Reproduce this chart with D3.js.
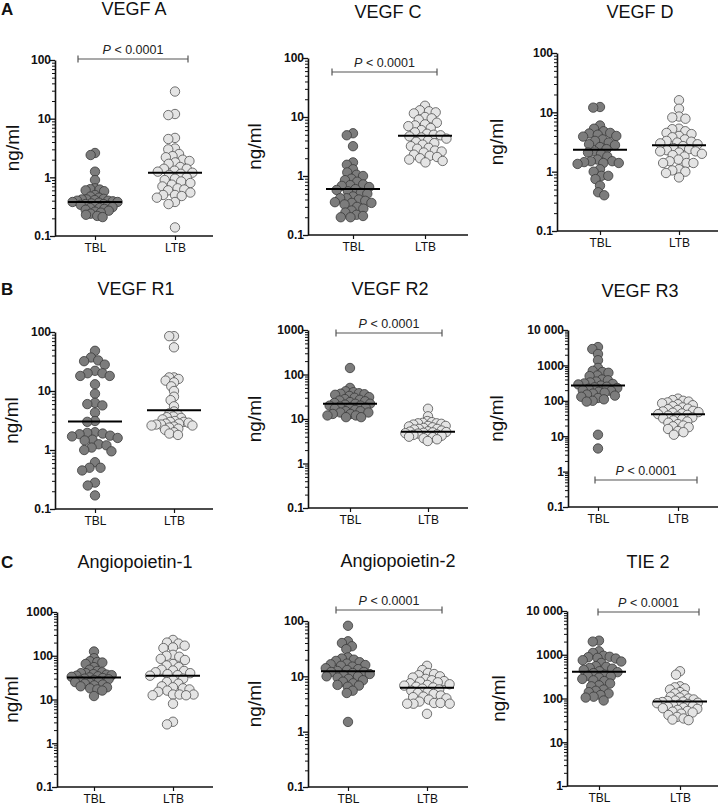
<!DOCTYPE html>
<html><head><meta charset="utf-8">
<script src="https://cdn.jsdelivr.net/npm/d3@7"></script>
<style>
body{margin:0;background:#fff}
svg{display:block}
text{font-family:"Liberation Sans",Arial,Helvetica,sans-serif}
</style>
</head><body>
<svg id="chart" width="721" height="807"></svg>
<script>
// ---------------- DATA ----------------
const groups = ["TBL", "LTB"];
const panelTitles = ["VEGF A", "VEGF C", "VEGF D", "VEGF R1", "VEGF R2", "VEGF R3", "Angiopoietin-1", "Angiopoietin-2", "TIE 2"];
const rowLetters = ["A", "B", "C"];
const unitLabel = "ng/ml";
const pText = "< 0.0001";

const vegfA_TBL = [2.6, 2.4, 1.25, 0.9, 0.65, 0.63, 0.62, 0.6, 0.58, 0.5, 0.47, 0.45, 0.43, 0.42, 0.42, 0.41, 0.4, 0.4, 0.39, 0.38, 0.38, 0.37, 0.36, 0.35, 0.35, 0.34, 0.33, 0.32, 0.31, 0.3, 0.3, 0.29, 0.28, 0.27, 0.26, 0.25, 0.24, 0.23, 0.22, 0.21];
const vegfA_LTB = [29, 12, 11.5, 4.7, 4.5, 3.1, 3.0, 2.5, 2.3, 2.2, 2.0, 1.9, 1.8, 1.7, 1.5, 1.4, 1.4, 1.3, 1.25, 1.2, 1.15, 1.1, 1.0, 0.95, 0.9, 0.85, 0.8, 0.75, 0.7, 0.65, 0.62, 0.6, 0.55, 0.5, 0.5, 0.48, 0.45, 0.38, 0.35, 0.14];
const vegfC_TBL = [5.3, 4.9, 3.2, 1.7, 1.55, 1.3, 1.15, 1.05, 1.0, 0.9, 0.85, 0.8, 0.72, 0.7, 0.68, 0.65, 0.6, 0.58, 0.55, 0.52, 0.5, 0.45, 0.42, 0.42, 0.4, 0.38, 0.36, 0.35, 0.35, 0.33, 0.3, 0.28, 0.26, 0.24, 0.22, 0.21, 0.2, 0.2];
const vegfC_LTB = [15.5, 13, 12.5, 12, 11.5, 10, 9.5, 9, 8, 7.5, 7.2, 7, 6.5, 6, 5.5, 5.2, 5, 4.9, 4.7, 4.5, 4.3, 4, 3.8, 3.6, 3.4, 3.2, 3, 2.9, 2.7, 2.6, 2.5, 2.3, 2.2, 2.1, 2.0, 1.9, 1.8, 1.7];
const vegfD_TBL = [12, 12.3, 6, 5.3, 4.8, 4.5, 4.4, 4.2, 4.0, 3.9, 3.5, 3.3, 3.1, 2.9, 2.8, 2.6, 2.4, 2.2, 2.1, 2.0, 1.8, 1.6, 1.5, 1.5, 1.45, 1.4, 1.4, 1.35, 1.1, 1.0, 0.85, 0.85, 0.75, 0.58, 0.45, 0.4];
const vegfD_LTB = [16, 11.5, 8.5, 8.2, 7.8, 5.3, 5.2, 4.8, 4.5, 4.3, 4.0, 3.8, 3.5, 3.3, 3.2, 3.1, 3.0, 2.9, 2.7, 2.5, 2.4, 2.3, 2.2, 2.2, 2.1, 2.0, 1.9, 1.8, 1.6, 1.5, 1.4, 1.4, 1.4, 1.1, 1.05, 1.0, 0.95, 0.8];
const vegfR1_TBL = [48, 37, 33, 32, 28, 22, 20, 20, 18, 18, 13, 9, 6.3, 6, 5.7, 4.3, 3.1, 3.0, 2.0, 1.95, 1.9, 1.85, 1.75, 1.7, 1.6, 1.5, 1.45, 1.25, 1.2, 1.1, 1.0, 0.95, 0.62, 0.5, 0.5, 0.45, 0.28, 0.25, 0.17];
const vegfR1_LTB = [85, 85, 55, 17, 17, 16, 15, 14, 12, 10, 8, 7, 5.5, 4.5, 4.2, 4.0, 3.7, 3.6, 3.5, 3.3, 3.1, 3.0, 3.0, 2.9, 2.8, 2.8, 2.7, 2.7, 2.6, 2.6, 2.5, 2.4, 2.3, 2.2, 2.0, 1.9, 1.8];
const vegfR2_TBL = [140, 50, 42, 40, 38, 37, 36, 35, 33, 31, 30, 28, 27, 26, 25, 24, 23, 22, 22, 21, 20, 20, 19, 18, 18, 17, 16, 15, 15, 14, 14, 13, 13, 12, 12, 11, 11];
const vegfR2_LTB = [17, 11.5, 9, 8.5, 8.2, 8, 8, 7.8, 7.5, 7, 7, 6.8, 6.5, 6.3, 6, 6, 5.8, 5.5, 5.3, 5.2, 5.1, 5, 4.9, 4.8, 4.7, 4.5, 4.4, 4.2, 4.1, 4, 3.9, 3.7, 3.5, 3.2];
const vegfR3_TBL = [3300, 2900, 2100, 1400, 850, 700, 650, 620, 520, 500, 400, 380, 350, 330, 310, 300, 290, 270, 250, 240, 230, 220, 200, 190, 180, 170, 160, 150, 140, 130, 120, 110, 100, 95, 11, 4.5];
const vegfR3_LTB = [115, 105, 100, 95, 90, 85, 80, 75, 70, 65, 60, 58, 55, 52, 50, 48, 46, 44, 42, 40, 38, 36, 34, 32, 30, 28, 26, 24, 22, 20, 19, 18, 16, 14, 13, 11];
const ang1_TBL = [125, 88, 75, 72, 70, 65, 55, 48, 45, 42, 40, 40, 38, 37, 36, 35, 34, 33, 32, 31, 30, 29, 28, 27, 26, 25, 24, 23, 22, 21, 20, 19, 18, 17, 16, 12];
const ang1_LTB = [230, 200, 190, 170, 155, 150, 105, 100, 95, 85, 80, 65, 60, 55, 48, 46, 45, 42, 40, 38, 36, 35, 30, 28, 25, 23, 20, 19, 18, 17, 16, 15, 13, 13, 13, 12.5, 12.5, 8, 3.1, 2.7];
const ang2_TBL = [82, 43, 40, 35, 31, 22, 21, 20, 19, 18, 17, 16.5, 16, 15.5, 15, 14, 13.5, 13, 12.5, 12, 12, 11.5, 11, 10.5, 10, 10, 9.5, 9, 8.5, 8, 7.5, 7, 6.8, 6.5, 5.5, 5, 1.5];
const ang2_LTB = [15.5, 13, 11.5, 11, 10.5, 10, 9.5, 9, 8.5, 8.2, 8, 7.8, 7.5, 7.2, 7, 6.8, 6.5, 6.3, 6, 5.8, 5.5, 5.2, 5, 4.8, 4.5, 4.3, 4.2, 4, 3.8, 3.5, 3.3, 3.3, 3.2, 3.2, 3.2, 2.1];
const tie2_TBL = [2100, 2000, 1200, 1100, 950, 900, 880, 850, 820, 750, 700, 650, 550, 530, 500, 480, 450, 420, 400, 380, 350, 330, 320, 300, 280, 260, 250, 220, 200, 190, 160, 150, 140, 130, 120, 110, 105, 90];
const tie2_LTB = [420, 350, 190, 180, 170, 160, 140, 130, 120, 110, 105, 100, 95, 90, 88, 85, 83, 80, 78, 75, 72, 70, 68, 65, 62, 60, 58, 55, 52, 50, 48, 45, 42, 38, 35, 33, 32];

const medianTBL = [0.38, 0.6, 2.35, 3.05, 22, 270, 32, 12.3, 410];
const medianLTB = [1.2, 4.8, 2.8, 4.7, 5.2, 42, 35, 6.2, 85];

const tickLabels = [
  ["0.1", "1", "10", "100"],
  ["0.1", "1", "10", "100"],
  ["0.1", "1", "10", "100"],
  ["0.1", "1", "10", "100"],
  ["0.1", "1", "10", "100", "1000"],
  ["0.1", "1", "10", "100", "1000", "10 000"],
  ["0.1", "1", "10", "100", "1000"],
  ["0.1", "1", "10", "100"],
  ["1", "10", "100", "1000", "10 000"]
];
const significant = [true, true, false, false, true, true, false, true, true];

const seriesTBL = [vegfA_TBL, vegfC_TBL, vegfD_TBL, vegfR1_TBL, vegfR2_TBL, vegfR3_TBL, ang1_TBL, ang2_TBL, tie2_TBL];
const seriesLTB = [vegfA_LTB, vegfC_LTB, vegfD_LTB, vegfR1_LTB, vegfR2_LTB, vegfR3_LTB, ang1_LTB, ang2_LTB, tie2_LTB];

// ---------------- LAYOUT (pixels) ----------------
const layout = [
  {ax: 55, top: 60, bot: 236, xEnd: 213, c1: 95, c2: 175, tx: 134, ty: 15, lx: 19, by: 59, bx1: 78, bx2: 188},
  {ax: 308, top: 58, bot: 235, xEnd: 468, c1: 353, c2: 425, tx: 388, ty: 18, lx: 261, by: 72, bx1: 332, bx2: 437},
  {ax: 557, top: 53, bot: 231, xEnd: 718, c1: 600, c2: 679, tx: 640, ty: 18, lx: 503},
  {ax: 55, top: 332, bot: 509, xEnd: 213, c1: 95, c2: 174, tx: 136, ty: 295, lx: 18},
  {ax: 308, top: 330, bot: 508, xEnd: 468, c1: 350, c2: 428, tx: 390, ty: 295, lx: 261, by: 333, bx1: 336, bx2: 442},
  {ax: 568, top: 330, bot: 507, xEnd: 718, c1: 598, c2: 678, tx: 640, ty: 297, lx: 503, by: 480, bx1: 595, bx2: 697},
  {ax: 57, top: 612, bot: 787, xEnd: 213, c1: 94, c2: 173, tx: 135, ty: 568, lx: 18},
  {ax: 308, top: 621, bot: 787, xEnd: 468, c1: 348, c2: 427, tx: 398, ty: 567, lx: 261, by: 610, bx1: 336, bx2: 442},
  {ax: 567, top: 611, bot: 786, xEnd: 718, c1: 599, c2: 680, tx: 648, ty: 568, lx: 505, by: 612, bx1: 598, bx2: 699}
];
const letterY = [15, 295, 568];

const R = 4.7;
const MAX_HALF = 23;
const fillTBL = "#7c7c7c", strokeTBL = "#3a3a3a";
const fillLTB = "#e4e4e4", strokeLTB = "#505050";

const svg = d3.select("#chart");

function swarmOnce(vals, y, d) {
  const pts = vals.map(v => ({v, y: y(v)})).sort((a, b) => a.y - b.y);
  const placed = [];
  for (const p of pts) {
    const near = placed.filter(q => Math.abs(q.y - p.y) < d);
    const cands = [0];
    for (const q of near) {
      const dx = Math.sqrt(d * d - (q.y - p.y) ** 2);
      cands.push(q.dx - dx, q.dx + dx);
    }
    cands.sort((a, b) => Math.abs(a) - Math.abs(b) || a - b);
    p.dx = 0;
    for (const c of cands) {
      if (near.every(q => (q.dx - c) ** 2 + (q.y - p.y) ** 2 >= d * d - 1e-6)) { p.dx = c; break; }
    }
    placed.push(p);
  }
  return placed;
}
function swarm(vals, y) {
  let d = 2 * R + 0.4, pts;
  while (true) {
    pts = swarmOnce(vals, y, d);
    const w = d3.max(pts, p => Math.abs(p.dx));
    if (w <= MAX_HALF || d < 3) break;
    d -= 0.25;
  }
  return pts;
}

rowLetters.forEach((L, i) => {
  svg.append("text").attr("x", 1).attr("y", letterY[i])
    .attr("font-size", 17).attr("font-weight", "bold").attr("fill", "#111").text(L);
});

panelTitles.forEach((title, i) => {
  const g = layout[i];
  const ticks = tickLabels[i].map(t => +t.replace(/\s/g, ""));
  const y = d3.scaleLog().domain([ticks[0], ticks[ticks.length - 1]]).range([g.bot, g.top]);
  const x = d3.scalePoint().domain(groups).range([g.c1, g.c2]);
  const p = svg.append("g");

  p.append("text").attr("x", g.tx).attr("y", g.ty).attr("text-anchor", "middle")
    .attr("font-size", 18).attr("fill", "#111").text(title);

  const ymid = (g.top + g.bot) / 2;
  p.append("text").attr("transform", `translate(${g.lx},${ymid}) rotate(-90)`)
    .attr("text-anchor", "middle").attr("font-size", 19).attr("fill", "#111").text(unitLabel);

  const minor = [];
  for (let k = 0; k < ticks.length - 1; k++) for (let m = 2; m <= 9; m++) minor.push(ticks[k] * m);
  const minorAxis = d3.axisLeft(y).tickValues(minor).tickSize(3).tickFormat("");
  p.append("g").attr("transform", `translate(${g.ax},0)`).call(minorAxis)
    .call(s => s.select(".domain").remove())
    .call(s => s.selectAll("line").attr("stroke", "#111").attr("stroke-width", 1));

  const yAxis = d3.axisLeft(y).tickValues(ticks).tickSize(5).tickSizeOuter(0)
    .tickFormat((d, k) => tickLabels[i][k]);
  p.append("g").attr("transform", `translate(${g.ax},0)`).call(yAxis)
    .call(s => s.select(".domain").attr("stroke", "#111").attr("stroke-width", 1.6))
    .call(s => s.selectAll(".tick line").attr("stroke", "#111").attr("stroke-width", 1.3))
    .call(s => s.selectAll(".tick text").attr("font-size", 12).attr("font-weight", "bold")
      .attr("fill", "#111").attr("x", -4).style("font-family", '"Liberation Sans",Arial,sans-serif'));

  p.append("line").attr("x1", g.ax).attr("x2", g.xEnd).attr("y1", g.bot).attr("y2", g.bot)
    .attr("stroke", "#111").attr("stroke-width", 1.6);
  const xAxis = d3.axisBottom(x).tickSize(4).tickSizeOuter(0);
  p.append("g").attr("transform", `translate(0,${g.bot})`).call(xAxis)
    .call(s => s.select(".domain").remove())
    .call(s => s.selectAll(".tick line").attr("stroke", "#111").attr("stroke-width", 1.2))
    .call(s => s.selectAll(".tick text").attr("font-size", 12).attr("fill", "#111")
      .attr("y", 15.5).attr("dy", 0)
      .style("font-family", '"Liberation Sans",Arial,sans-serif'));

  [[seriesTBL[i], "TBL", fillTBL, strokeTBL], [seriesLTB[i], "LTB", fillLTB, strokeLTB]].forEach(([vals, grp, f, s]) => {
    const pts = swarm(vals, y);
    p.append("g").selectAll("circle").data(pts).join("circle")
      .attr("cx", d => x(grp) + d.dx).attr("cy", d => d.y).attr("r", R)
      .attr("fill", f).attr("stroke", s).attr("stroke-width", 0.8);
  });

  [[medianTBL[i], "TBL"], [medianLTB[i], "LTB"]].forEach(([m, grp]) => {
    p.append("line").attr("x1", x(grp) - 27).attr("x2", x(grp) + 27)
      .attr("y1", y(m)).attr("y2", y(m)).attr("stroke", "#000").attr("stroke-width", 2);
  });

  if (significant[i]) {
    const b = p.append("g").attr("stroke", "#555").attr("stroke-width", 1.2);
    b.append("line").attr("x1", g.bx1).attr("x2", g.bx2).attr("y1", g.by).attr("y2", g.by);
    b.append("line").attr("x1", g.bx1).attr("x2", g.bx1).attr("y1", g.by - 3.5).attr("y2", g.by + 3.5);
    b.append("line").attr("x1", g.bx2).attr("x2", g.bx2).attr("y1", g.by - 3.5).attr("y2", g.by + 3.5);
    const t = p.append("text").attr("x", (g.bx1 + g.bx2) / 2).attr("y", g.by - 5)
      .attr("text-anchor", "middle").attr("font-size", 12.5).attr("fill", "#222");
    t.append("tspan").attr("font-style", "italic").text("P");
    t.append("tspan").text(" " + pText);
  }
});
</script>
</body></html>
